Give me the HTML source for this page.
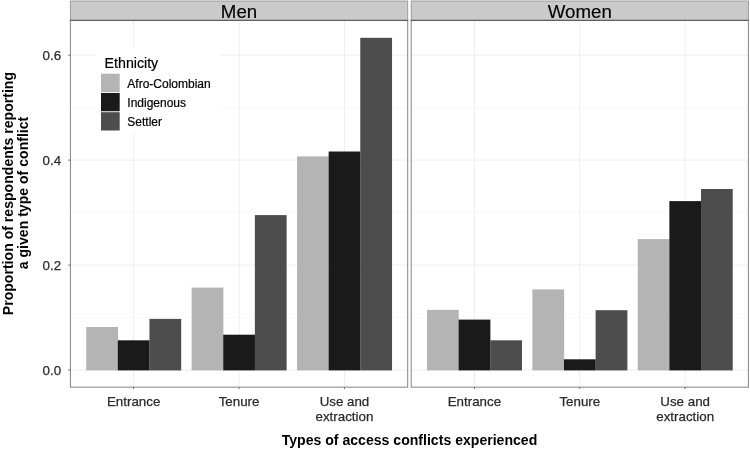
<!DOCTYPE html>
<html lang="en"><head><meta charset="utf-8"><title>Types of access conflicts experienced</title>
<style>
html,body{margin:0;padding:0;background:#fff;}
body{width:750px;height:449px;overflow:hidden;}
svg{display:block;font-family:"Liberation Sans",Arial,Helvetica,sans-serif;}
.tick{font-size:13.33px;fill:#2b2b2b;stroke:#2b2b2b;stroke-width:0.25px;}
.strip{font-size:18.7px;fill:#000;stroke:#000;stroke-width:0.15px;}
.title{font-size:14.08px;font-weight:bold;fill:#000;}
.leg{font-size:12px;fill:#000;stroke:#000;stroke-width:0.2px;}
.legt{font-size:14.2px;fill:#000;stroke:#000;stroke-width:0.2px;}
</style></head><body>
<svg width="750" height="449" viewBox="0 0 750 449">
<rect x="0" y="0" width="750" height="449" fill="#ffffff"/>

<g>
<rect x="70.40" y="20.5" width="337.30" height="366.65" fill="#fff"/>
<line x1="70.40" x2="407.70" y1="317.60" y2="317.60" stroke="#f3f3f3" stroke-width="0.6"/>
<line x1="70.40" x2="407.70" y1="212.60" y2="212.60" stroke="#f3f3f3" stroke-width="0.6"/>
<line x1="70.40" x2="407.70" y1="107.60" y2="107.60" stroke="#f3f3f3" stroke-width="0.6"/>
<line x1="70.40" x2="407.70" y1="370.10" y2="370.10" stroke="#ececec" stroke-width="0.9"/>
<line x1="70.40" x2="407.70" y1="265.10" y2="265.10" stroke="#ececec" stroke-width="0.9"/>
<line x1="70.40" x2="407.70" y1="160.10" y2="160.10" stroke="#ececec" stroke-width="0.9"/>
<line x1="70.40" x2="407.70" y1="55.10" y2="55.10" stroke="#ececec" stroke-width="0.9"/>
<line x1="133.64" x2="133.64" y1="20.5" y2="387.15" stroke="#ececec" stroke-width="0.9"/>
<line x1="239.05" x2="239.05" y1="20.5" y2="387.15" stroke="#ececec" stroke-width="0.9"/>
<line x1="344.46" x2="344.46" y1="20.5" y2="387.15" stroke="#ececec" stroke-width="0.9"/>
<rect x="86.21" y="327.00" width="31.77" height="43.40" fill="#b4b4b4"/>
<rect x="117.83" y="340.30" width="31.77" height="30.10" fill="#1a1a1a"/>
<rect x="149.45" y="318.90" width="31.77" height="51.50" fill="#4d4d4d"/>
<rect x="191.62" y="287.60" width="31.77" height="82.80" fill="#b4b4b4"/>
<rect x="223.24" y="334.70" width="31.77" height="35.70" fill="#1a1a1a"/>
<rect x="254.86" y="215.10" width="31.77" height="155.30" fill="#4d4d4d"/>
<rect x="297.02" y="156.40" width="31.77" height="214.00" fill="#b4b4b4"/>
<rect x="328.65" y="151.50" width="31.77" height="218.90" fill="#1a1a1a"/>
<rect x="360.27" y="37.80" width="31.77" height="332.60" fill="#4d4d4d"/>
<rect x="70.40" y="1.0" width="337.30" height="19.50" fill="#cacaca" stroke="#969696" stroke-width="0.9"/>
<rect x="70.40" y="20.5" width="337.30" height="366.65" fill="none" stroke="#848484" stroke-width="1"/>
<line x1="69.90" x2="408.20" y1="20.4" y2="20.4" stroke="#5e5e5e" stroke-width="1.3"/>
<text class="strip" x="239.05" y="17.9" text-anchor="middle">Men</text>
<line x1="133.64" x2="133.64" y1="387.15" y2="389.0" stroke="#555" stroke-width="0.8"/>
<text class="tick" x="133.64" y="406.3" text-anchor="middle">Entrance</text>
<line x1="239.05" x2="239.05" y1="387.15" y2="389.0" stroke="#555" stroke-width="0.8"/>
<text class="tick" x="239.05" y="406.3" text-anchor="middle">Tenure</text>
<line x1="344.46" x2="344.46" y1="387.15" y2="389.0" stroke="#555" stroke-width="0.8"/>
<text class="tick" x="344.46" y="406.3" text-anchor="middle">Use and</text>
<text class="tick" x="344.46" y="420.8" text-anchor="middle">extraction</text>
</g>
<g>
<rect x="411.20" y="20.5" width="337.20" height="366.65" fill="#fff"/>
<line x1="411.20" x2="748.40" y1="317.60" y2="317.60" stroke="#f3f3f3" stroke-width="0.6"/>
<line x1="411.20" x2="748.40" y1="212.60" y2="212.60" stroke="#f3f3f3" stroke-width="0.6"/>
<line x1="411.20" x2="748.40" y1="107.60" y2="107.60" stroke="#f3f3f3" stroke-width="0.6"/>
<line x1="411.20" x2="748.40" y1="370.10" y2="370.10" stroke="#ececec" stroke-width="0.9"/>
<line x1="411.20" x2="748.40" y1="265.10" y2="265.10" stroke="#ececec" stroke-width="0.9"/>
<line x1="411.20" x2="748.40" y1="160.10" y2="160.10" stroke="#ececec" stroke-width="0.9"/>
<line x1="411.20" x2="748.40" y1="55.10" y2="55.10" stroke="#ececec" stroke-width="0.9"/>
<line x1="474.42" x2="474.42" y1="20.5" y2="387.15" stroke="#ececec" stroke-width="0.9"/>
<line x1="579.80" x2="579.80" y1="20.5" y2="387.15" stroke="#ececec" stroke-width="0.9"/>
<line x1="685.17" x2="685.17" y1="20.5" y2="387.15" stroke="#ececec" stroke-width="0.9"/>
<rect x="427.01" y="309.90" width="31.76" height="60.50" fill="#b4b4b4"/>
<rect x="458.62" y="319.60" width="31.76" height="50.80" fill="#1a1a1a"/>
<rect x="490.23" y="340.30" width="31.76" height="30.10" fill="#4d4d4d"/>
<rect x="532.38" y="289.40" width="31.76" height="81.00" fill="#b4b4b4"/>
<rect x="563.99" y="359.30" width="31.76" height="11.10" fill="#1a1a1a"/>
<rect x="595.61" y="310.20" width="31.76" height="60.20" fill="#4d4d4d"/>
<rect x="637.76" y="239.10" width="31.76" height="131.30" fill="#b4b4b4"/>
<rect x="669.37" y="201.10" width="31.76" height="169.30" fill="#1a1a1a"/>
<rect x="700.98" y="189.00" width="31.76" height="181.40" fill="#4d4d4d"/>
<rect x="411.20" y="1.0" width="337.20" height="19.50" fill="#cacaca" stroke="#969696" stroke-width="0.9"/>
<rect x="411.20" y="20.5" width="337.20" height="366.65" fill="none" stroke="#848484" stroke-width="1"/>
<line x1="410.70" x2="748.90" y1="20.4" y2="20.4" stroke="#5e5e5e" stroke-width="1.3"/>
<text class="strip" x="579.80" y="17.9" text-anchor="middle">Women</text>
<line x1="474.42" x2="474.42" y1="387.15" y2="389.0" stroke="#555" stroke-width="0.8"/>
<text class="tick" x="474.42" y="406.3" text-anchor="middle">Entrance</text>
<line x1="579.80" x2="579.80" y1="387.15" y2="389.0" stroke="#555" stroke-width="0.8"/>
<text class="tick" x="579.80" y="406.3" text-anchor="middle">Tenure</text>
<line x1="685.17" x2="685.17" y1="387.15" y2="389.0" stroke="#555" stroke-width="0.8"/>
<text class="tick" x="685.17" y="406.3" text-anchor="middle">Use and</text>
<text class="tick" x="685.17" y="420.8" text-anchor="middle">extraction</text>
</g>
<line x1="68.2" x2="70.4" y1="370.10" y2="370.10" stroke="#555" stroke-width="0.8"/>
<text class="tick" x="61.1" y="375.00" text-anchor="end">0.0</text>
<line x1="68.2" x2="70.4" y1="265.10" y2="265.10" stroke="#555" stroke-width="0.8"/>
<text class="tick" x="61.1" y="270.00" text-anchor="end">0.2</text>
<line x1="68.2" x2="70.4" y1="160.10" y2="160.10" stroke="#555" stroke-width="0.8"/>
<text class="tick" x="61.1" y="165.00" text-anchor="end">0.4</text>
<line x1="68.2" x2="70.4" y1="55.10" y2="55.10" stroke="#555" stroke-width="0.8"/>
<text class="tick" x="61.1" y="60.00" text-anchor="end">0.6</text>
<g>
<rect x="94.8" y="47.6" width="124.2" height="86.6" fill="#fff"/>
<text class="legt" x="104.6" y="68.4">Ethnicity</text>
<rect x="101" y="73.70" width="18.7" height="18.3" fill="#b4b4b4"/>
<text class="leg" x="127.3" y="87.5">Afro-Colombian</text>
<rect x="101" y="92.95" width="18.7" height="18.3" fill="#1a1a1a"/>
<text class="leg" x="127.3" y="106.6">Indigenous</text>
<rect x="101" y="112.20" width="18.7" height="18.3" fill="#4d4d4d"/>
<text class="leg" x="127.3" y="125.7">Settler</text>
</g>
<text class="title" x="409.5" y="444.6" text-anchor="middle">Types of access conflicts experienced</text>
<text class="title" transform="translate(12.5,193.6) rotate(-90)" text-anchor="middle">Proportion of respondents reporting</text>
<text class="title" transform="translate(28,193) rotate(-90)" text-anchor="middle">a given type of conflict</text>
</svg></body></html>
